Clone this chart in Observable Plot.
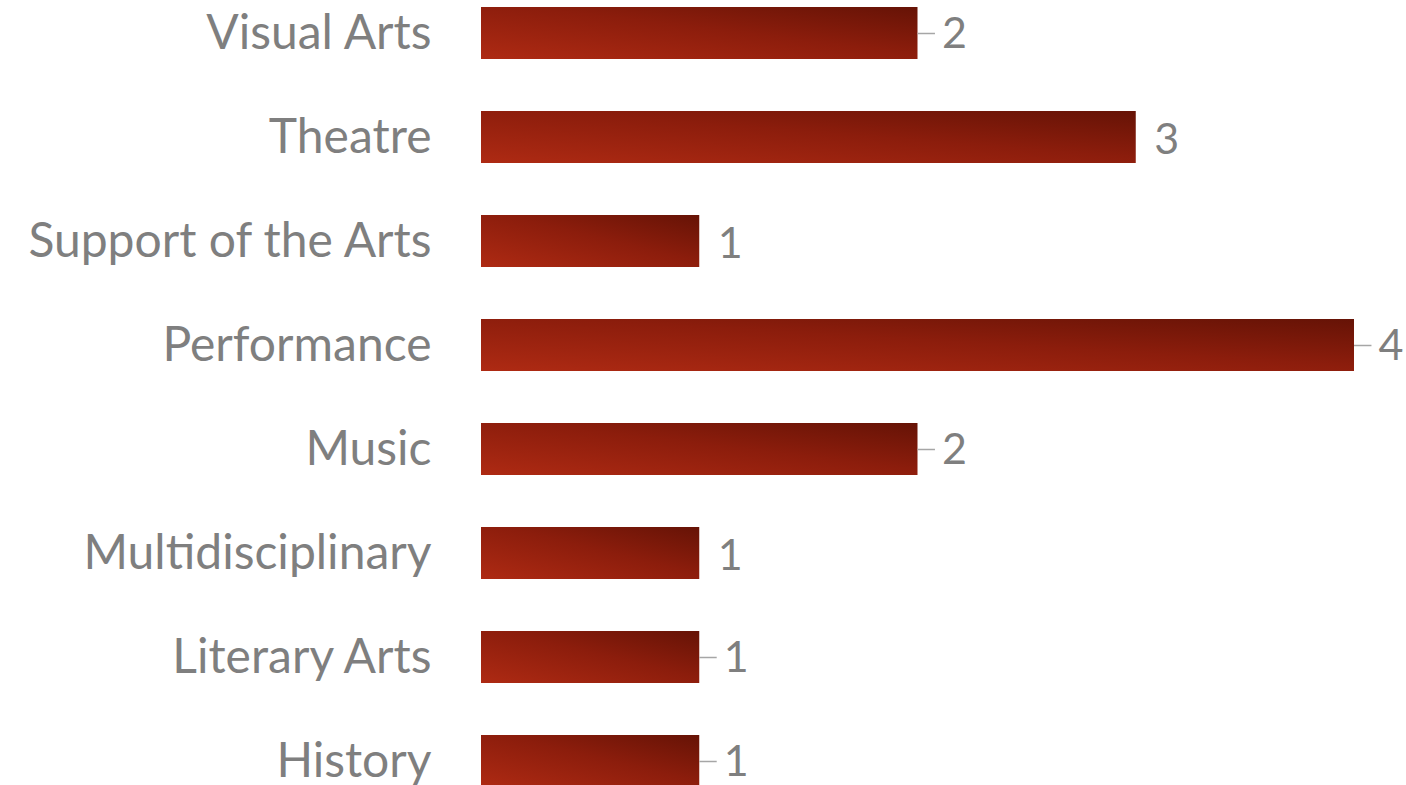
<!DOCTYPE html>
<html>
<head>
<meta charset="utf-8">
<script src="https://cdn.jsdelivr.net/npm/d3@7"></script>
<script src="https://cdn.jsdelivr.net/npm/@observablehq/plot@0.6"></script>
<style>
  html, body { margin: 0; padding: 0; background: #fff; }
  #chart { width: 1406px; height: 785px; overflow: hidden; }
</style>
</head>
<body>
<div id="chart"></div>
<script>
const categories = ["Visual Arts", "Theatre", "Support of the Arts", "Performance", "Music", "Multidisciplinary", "Literary Arts", "History"];
const counts = [2, 3, 1, 4, 2, 1, 1, 1];
const hasLeader = [true, false, false, true, true, false, true, true];

const data = categories.map((c, i) => ({category: c, value: counts[i], leader: hasLeader[i]}));
const withLeader = data.filter(d => d.leader);
const noLeader = data.filter(d => !d.leader);

const FONT = "Lato, 'Open Sans', sans-serif";
const FS = 48;
const FS_NUM = 43;

const gradientDefs = () => {
  const defs = d3.create("svg:defs");
  const g = defs.append("linearGradient")
    .attr("id", "barGrad")
    .attr("x1", 0).attr("y1", 1).attr("x2", 1).attr("y2", 0);
  g.append("stop").attr("offset", "0%").attr("stop-color", "#ae2a13");
  g.append("stop").attr("offset", "55%").attr("stop-color", "#8c1d0c");
  g.append("stop").attr("offset", "100%").attr("stop-color", "#661306");
  return defs.node();
};

const chart = Plot.plot({
  width: 1406,
  height: 785,
  marginLeft: 481,
  marginRight: 52,
  marginTop: 0,
  marginBottom: 0,
  style: {fontFamily: FONT, color: "#7f7f7f", background: "#fff"},
  x: {domain: [0, 4], range: [481, 1354], axis: null},
  y: {domain: categories, range: [6, 787], paddingInner: 0.5, paddingOuter: 0, align: 0.5},
  marks: [
    gradientDefs,
    Plot.axisY({tickSize: 0, tickPadding: 50, fontSize: FS, label: null, fill: "#7f7f7f"}),
    Plot.barX(data, {x: "value", y: "category", fill: "url(#barGrad)"}),
    Plot.ruleY(withLeader, {y: "category", x1: "value", x2: d => d.value + 0.08, stroke: "#a6a6a6", strokeWidth: 1.5}),
    Plot.text(withLeader, {x: "value", y: "category", text: d => String(d.value), textAnchor: "start", dx: 24, dy: 1, fontSize: FS_NUM, fill: "#7f7f7f"}),
    Plot.text(noLeader, {x: "value", y: "category", text: d => String(d.value), textAnchor: "start", dx: 18, dy: 3, fontSize: FS_NUM, fill: "#7f7f7f"})
  ]
});

document.getElementById("chart").appendChild(chart);
</script>
</body>
</html>
